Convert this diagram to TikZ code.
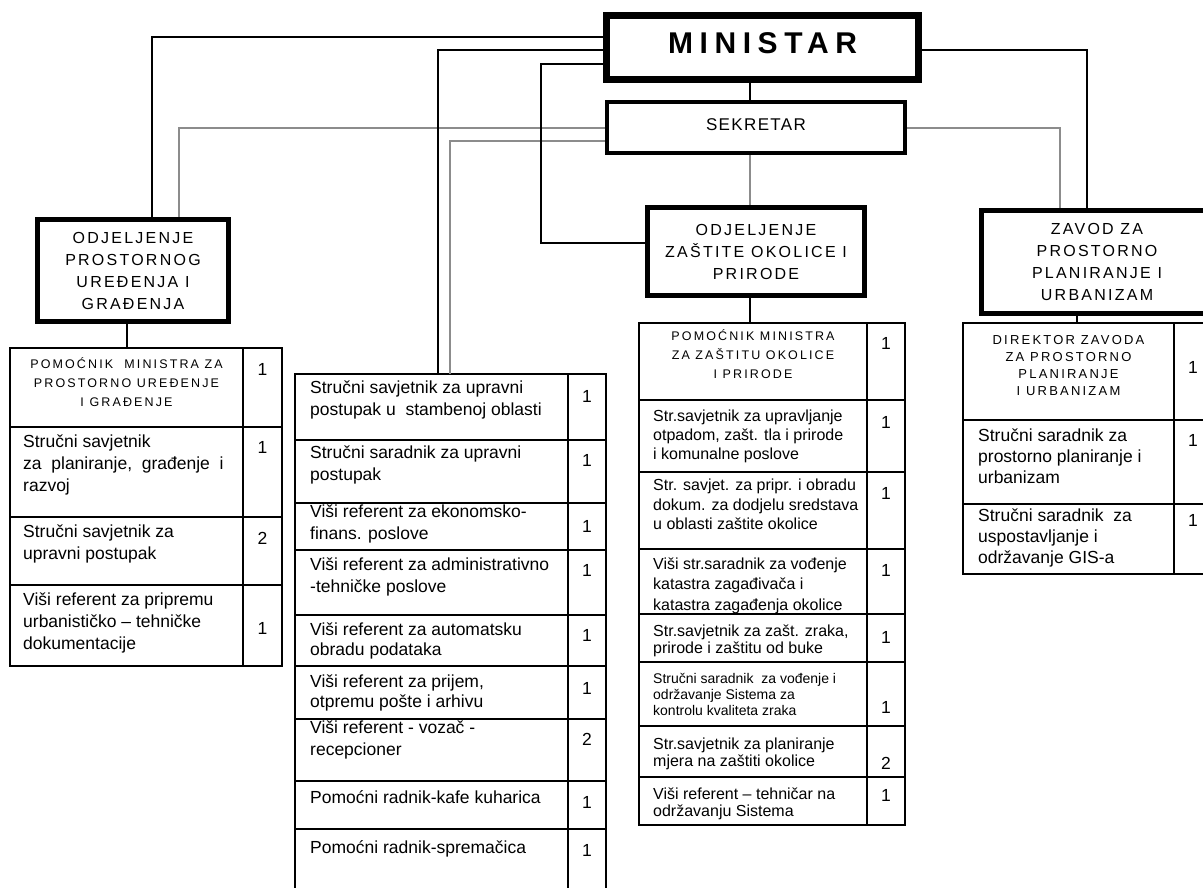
\documentclass[tikz,border=0pt]{standalone}
\usepackage{fontspec}
\setmainfont{Liberation Sans}
\newfontfamily\hdrfont{Liberation Sans}[LetterSpace=17]
\newfontfamily\depfont{Liberation Sans}[LetterSpace=14]
\newfontfamily\minfont{Liberation Sans}[LetterSpace=22]
\newfontfamily\sekfont{Liberation Sans}[LetterSpace=8]
\begin{document}
\begin{tikzpicture}[x=1pt,y=-1pt,
  bk/.style={line width=1.5pt, draw=black},
  gy/.style={line width=1.4pt, draw=black!45},
  tl/.style={line width=1.5pt},
  tframe/.style={draw, line width=1.5pt, anchor=north west, inner sep=0pt, outer sep=0pt},
  cell/.style 2 args={anchor=north west, inner sep=0pt, align=left, font=\fontsize{#1}{#2}\selectfont, execute at begin node=\strut},
  hcell/.style 2 args={anchor=north, inner sep=0pt, align=center, font=\hdrfont\fontsize{#1}{#2}\selectfont, execute at begin node=\strut},
  num/.style={inner sep=0pt, font=\fontsize{17.5}{22}\selectfont},
  dept/.style={draw, line width=4.5pt, inner sep=0pt, outer sep=2.25pt, align=center, font=\depfont\fontsize{16}{22}\selectfont}]
\useasboundingbox (0,0) rectangle (1203,888);
\fill[white] (0,0) rectangle (1203,888);
\begin{scope}
\clip (0,0) rectangle (1203,888);
% ---- main boxes
\node[draw, line width=7pt, inner sep=0pt, outer sep=3.5pt, minimum width=312pt, minimum height=64pt, text depth=9pt, font=\minfont\bfseries\fontsize{30}{36}\selectfont] (min) at (762.5,47.5) {MINISTAR};
\node[draw, line width=4.5pt, inner sep=0pt, outer sep=2.25pt, minimum width=298pt, minimum height=51pt, text depth=5pt, font=\sekfont\fontsize{17}{20}\selectfont] (sek) at (756,127.5) {SEKRETAR};
\node[dept, minimum width=191pt, minimum height=102pt] (dA) at (133,270.5) {ODJELJENJE\\PROSTORNOG\\UREĐENJA I\\GRAĐENJA};
\node[dept, minimum width=217pt, minimum height=88pt] (dB) at (756,251.5) {ODJELJENJE\\ZAŠTITE OKOLICE I\\PRIRODE};
\node[dept, minimum width=231pt, minimum height=103pt] (dC) at (1097,262) {ZAVOD ZA\\PROSTORNO\\PLANIRANJE I\\URBANIZAM};
% ---- table frames
\node[tframe, minimum width=272pt, minimum height=318pt] (tA) at (10,348) {};
\node[tframe, minimum width=311pt, minimum height=530pt] (tB) at (295,374) {};
\node[tframe, minimum width=266pt, minimum height=502pt] (tC) at (639,323) {};
\node[tframe, minimum width=250pt, minimum height=251pt] (tD) at (963,323) {};
\draw[tl] (243,348) -- (243,666);
\foreach \y in {427,517,585} \draw[tl] (10,\y) -- (282,\y);
\draw[tl] (568,374) -- (568,900);
\foreach \y in {440,503,550,615,666,719,781,829} \draw[tl] (295,\y) -- (606,\y);
\draw[tl] (867,323) -- (867,825);
\foreach \y in {400,472,549,614,662,726,777} \draw[tl] (639,\y) -- (905,\y);
\draw[tl] (1174,323) -- (1174,574);
\foreach \y in {420,504} \draw[tl] (963,\y) -- (1213,\y);
% ---- connectors
\coordinate (m1) at ([yshift=10.5pt]min.west);
\coordinate (m2) at ([yshift=-2.5pt]min.west);
\coordinate (m3) at ([yshift=-16.5pt]min.west);
\coordinate (m4) at ([yshift=-2.5pt]min.east);
\coordinate (m5) at ([xshift=-12.5pt]min.south);
\coordinate (s1) at ([yshift=-0.5pt]sek.west);
\coordinate (s2) at ([yshift=-13.5pt]sek.west);
\coordinate (s3) at ([yshift=-0.5pt]sek.east);
\coordinate (s4) at ([xshift=-6pt]sek.south);
\coordinate (aA) at ([xshift=19pt]dA.north);
\coordinate (gA) at ([xshift=46pt]dA.north);
\coordinate (aB) at ([yshift=8.5pt]dB.west);
\coordinate (aC) at ([xshift=-10pt]dC.north);
\coordinate (gC) at ([xshift=-37pt]dC.north);
\coordinate (bT) at ([xshift=-12.5pt]tB.north);
\coordinate (gT) at ([xshift=-0.5pt]tB.north);
\coordinate (dAs) at ([xshift=-6pt]dA.south);
\coordinate (dBs) at ([xshift=-6pt]dB.south);
\coordinate (dCs) at ([xshift=-20pt]dC.south);
\draw[gy] (s1) -| (gA);
\draw[gy] (s2) -| (gT);
\draw[gy] (s3) -| (gC);
\draw[gy] (s4) -- (s4 |- dB.north);
\draw[bk] (m1) -| (aA);
\draw[bk] (m2) -| (bT);
\draw[bk] (m3) -- ++(-62,0) |- (aB);
\draw[bk] (m4) -| (aC);
\draw[bk] (m5) -- (m5 |- sek.north);
\draw[bk] (dAs) -- (dAs |- tA.north);
\draw[bk] (dBs) -- (dBs |- tC.north);
\draw[bk] (dCs) -- (dCs |- tD.north);
% ---- left table
\node[hcell={12.5}{19}] (tA1) at (126.5,357.2) {POMOĆNIK\ \ MINISTRA ZA\\PROSTORNO UREĐENJE\\I GRAĐENJE};
\node[cell={17.5}{22}] (tA2) at (23,434.85) {Stručni savjetnik\\za\ \ planiranje,\ \ građenje\ \ i\\razvoj};
\node[cell={17.5}{22}] (tA3) at (23,524.85) {Stručni savjetnik za\\upravni postupak};
\node[cell={17.5}{22}] (tA4) at (23,592.85) {Viši referent za pripremu\\urbanističko – tehničke\\dokumentacije};
\node[num] (nA1) at (262.5,369) {1};
\node[num] (nA2) at (262.5,447) {1};
\node[num] (nA3) at (262.5,538) {2};
\node[num] (nA4) at (262.5,628) {1};
% ---- middle table
\node[cell={17.5}{22}] (tB1) at (310,380.85) {Stručni savjetnik za upravni\\postupak u\ \ stambenoj oblasti};
\node[cell={17.5}{22}] (tB2) at (310,445.85) {Stručni saradnik za upravni\\postupak};
\node[cell={17.5}{22}] (tB3) at (310,504.85) {Viši referent za ekonomsko-\\finans. poslove};
\node[cell={17.5}{22}] (tB4) at (310,557.85) {Viši referent za administrativno\\-tehničke poslove};
\node[cell={17.5}{19.5}] (tB5) at (310,622.6) {Viši referent za automatsku\\obradu podataka};
\node[cell={17.5}{19.5}] (tB6) at (310,674.6) {Viši referent za prijem,\\otpremu pošte i arhivu};
\node[cell={17.5}{22}] (tB7) at (310,720.85) {Viši referent - vozač -\\recepcioner};
\node[cell={17.5}{22}] (tB8) at (310,787.85) {Pomoćni radnik-kafe kuharica};
\node[cell={17.5}{22}] (tB9) at (310,837.85) {Pomoćni radnik-spremačica};
\node[num] (nB1) at (587,396) {1};
\node[num] (nB2) at (587,460) {1};
\node[num] (nB3) at (587,526) {1};
\node[num] (nB4) at (587,570) {1};
\node[num] (nB5) at (587,635.5) {1};
\node[num] (nB6) at (587,688) {1};
\node[num] (nB7) at (587,739.5) {2};
\node[num] (nB8) at (587,802) {1};
\node[num] (nB9) at (587,850) {1};
% ---- third table
\node[hcell={12.5}{19}] (tC1) at (753,329.2) {POMOĆNIK MINISTRA\\ZA ZAŠTITU OKOLICE\\I PRIRODE};
\node[cell={16}{19}] (tC2) at (653,409.5) {Str.savjetnik za upravljanje\\otpadom, zašt. tla i prirode\\i komunalne poslove};
\node[cell={16}{19.5}] (tC3) at (653,479.15) {Str. savjet. za pripr. i obradu\\dokum. za dodjelu sredstava\\u oblasti zaštite okolice};
\begin{scope}
\clip (639,549) rectangle (867,614.5);
\node[cell={16}{20.5}] (tC4) at (653,557.45) {Viši str.saradnik za vođenje\\katastra zagađivača i\\katastra zagađenja okolice};
\end{scope}
\node[cell={16}{17}] (tC5) at (653,624.9) {Str.savjetnik za zašt. zraka,\\prirode i zaštitu od buke};
\node[cell={14}{16}] (tC6) at (653,673) {Stručni saradnik\ \ za vođenje i\\održavanje Sistema za\\kontrolu kvaliteta zraka};
\node[cell={16}{17}] (tC7) at (653,737.9) {Str.savjetnik za planiranje\\mjera na zaštiti okolice};
\node[cell={16}{17}] (tC8) at (653,787.9) {Viši referent – tehničar na\\održavanju Sistema};
\node[num] (nC1) at (886,343) {1};
\node[num] (nC2) at (886,422) {1};
\node[num] (nC3) at (886,493) {1};
\node[num] (nC4) at (886,570) {1};
\node[num] (nC5) at (886,637) {1};
\node[num] (nC6) at (886,707) {1};
\node[num] (nC7) at (886,763) {2};
\node[num] (nC8) at (886,795) {1};
% ---- right table
\node[hcell={13}{17}] (tD1) at (1068.5,334.8) {DIREKTOR ZAVODA\\ZA PROSTORNO\\PLANIRANJE\\I URBANIZAM};
\node[cell={17.5}{21}] (tD2) at (978,428.55) {Stručni saradnik za\\prostorno planiranje i\\urbanizam};
\node[cell={17.5}{21}] (tD3) at (978,508.55) {Stručni saradnik\ \ za\\uspostavljanje i\\održavanje GIS-a};
\node[num] (nD1) at (1193,367) {1};
\node[num] (nD2) at (1193,440) {1};
\node[num] (nD3) at (1193,520) {1};
\end{scope}
\end{tikzpicture}
\end{document}
